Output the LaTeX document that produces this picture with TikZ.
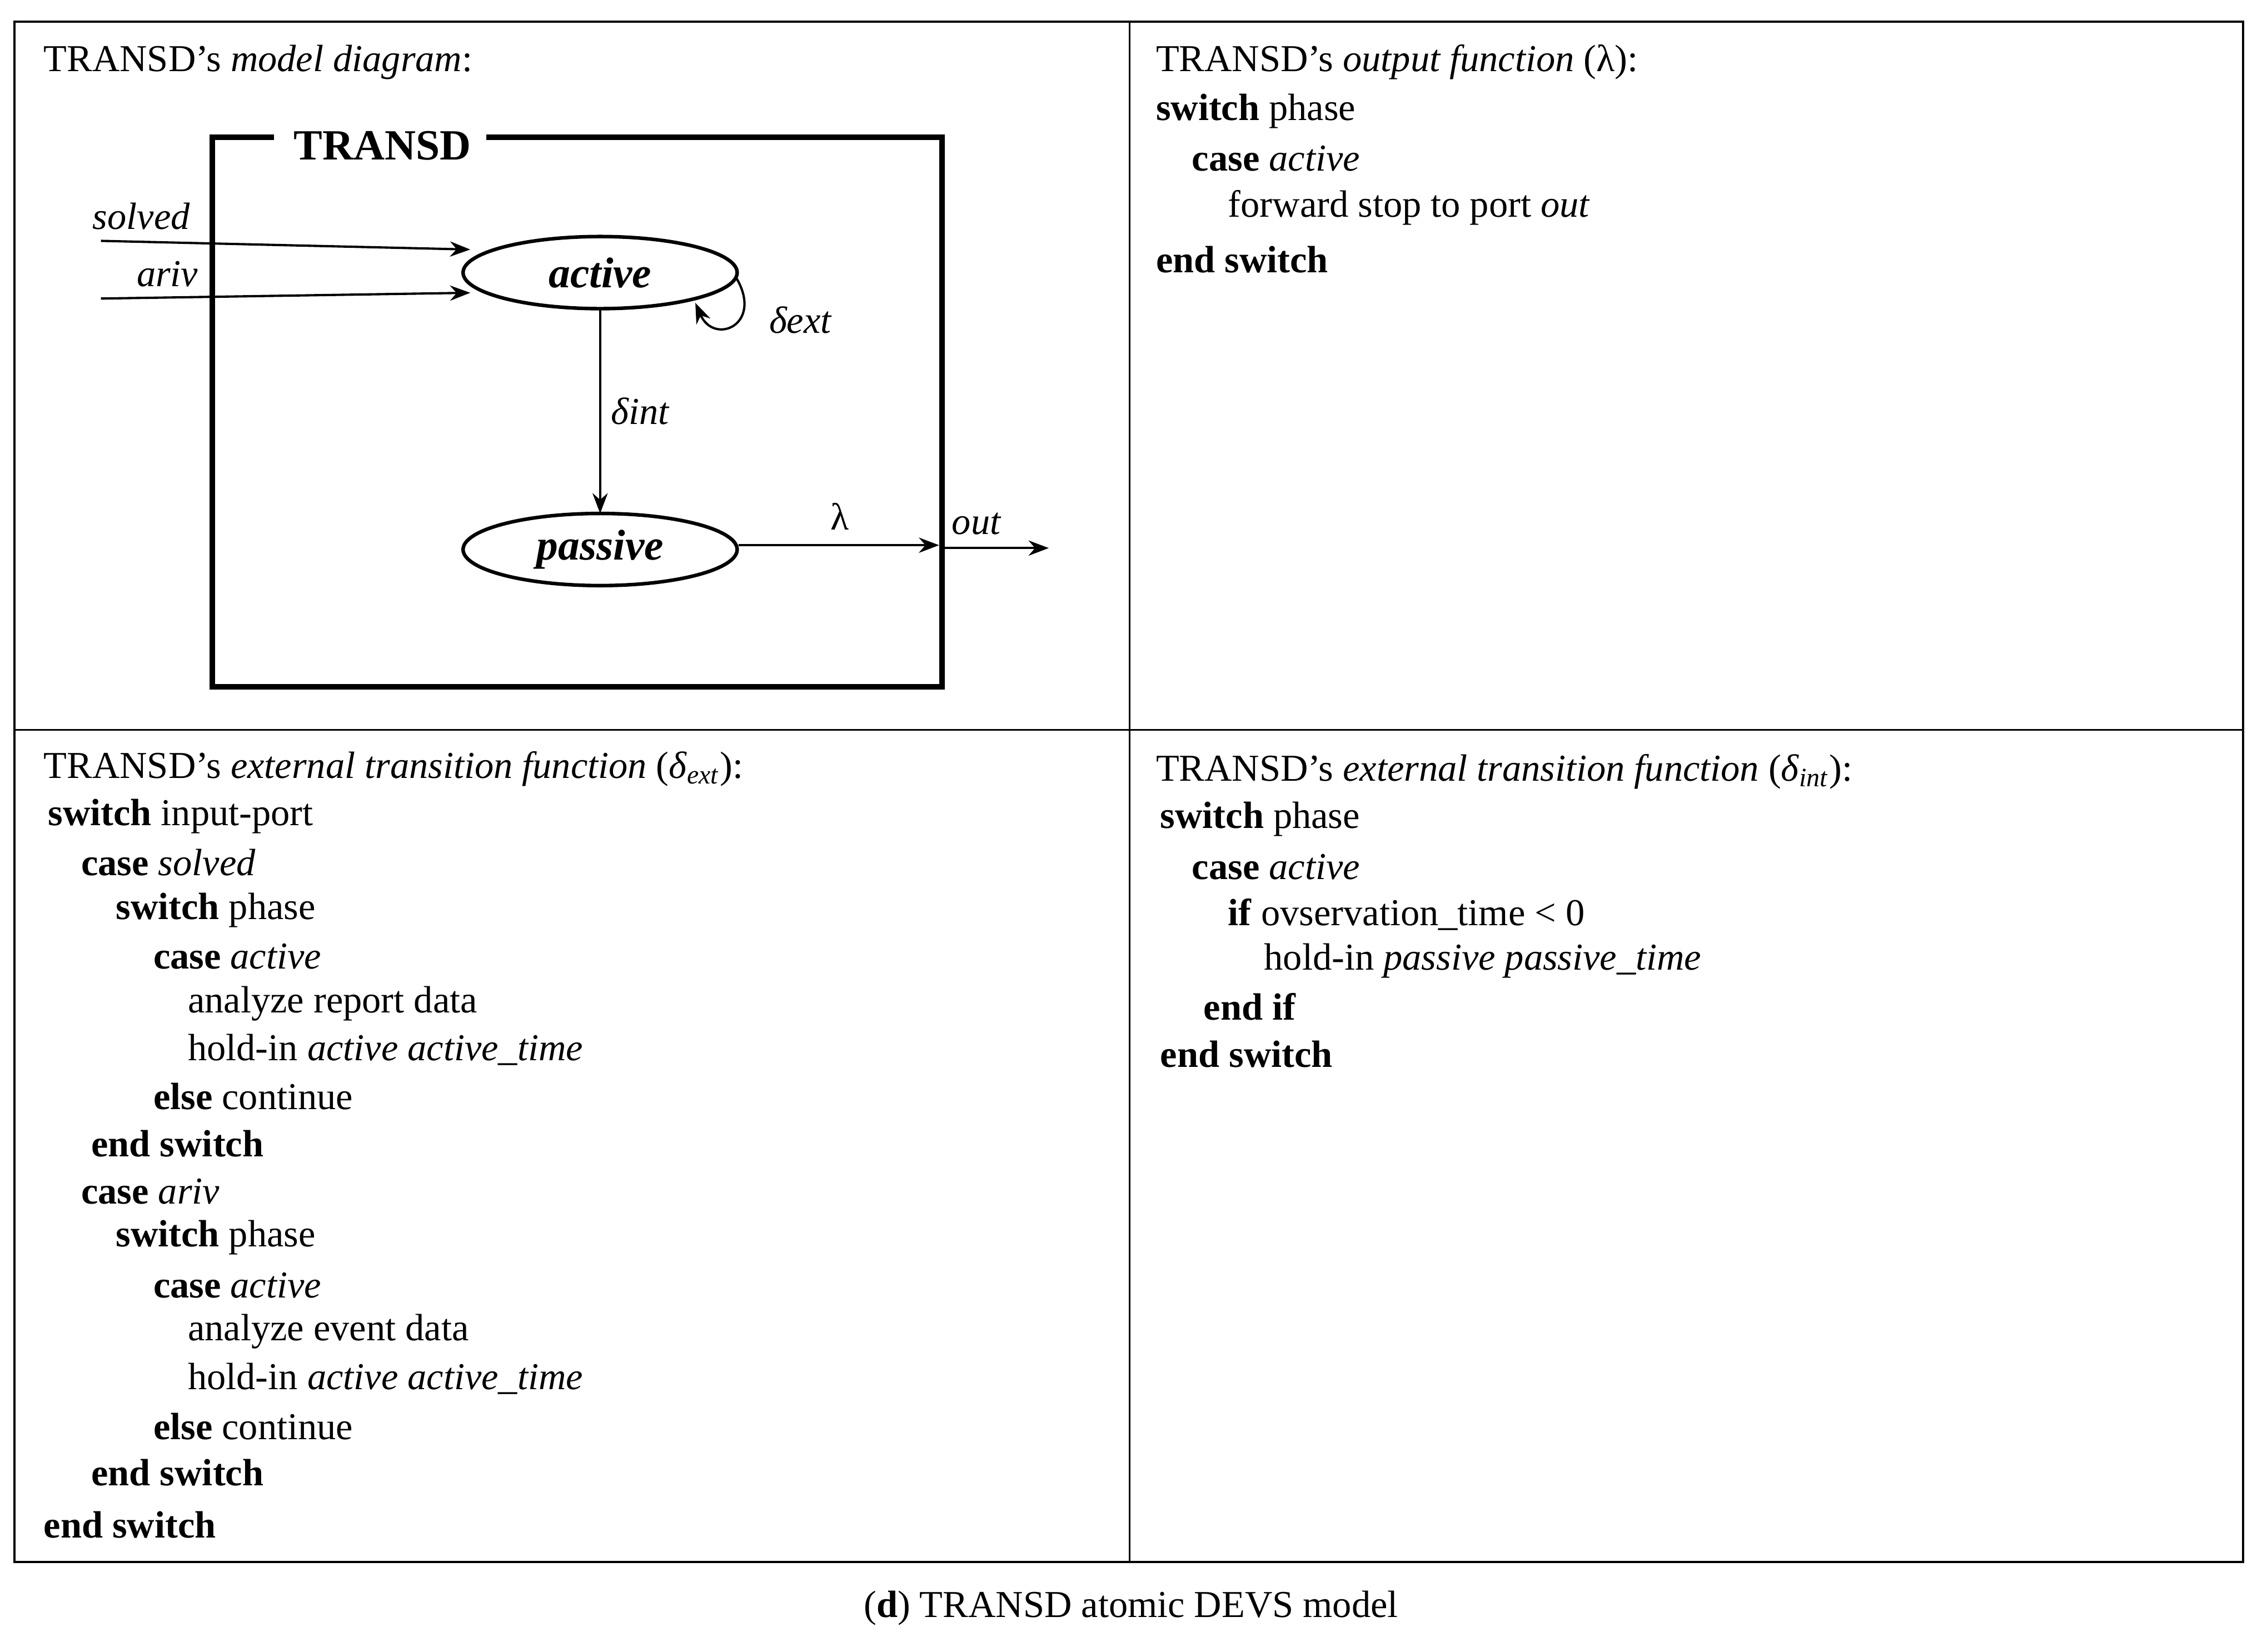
\documentclass[tikz,border=0pt]{standalone}
\usepackage{fontspec}
\setmainfont{Liberation Serif}
\usetikzlibrary{arrows.meta}
\begin{document}
\begin{tikzpicture}[x=0.02cm,y=-0.02cm,
  every node/.style={font=\fontsize{15}{18}\selectfont,inner sep=0pt},
  cl/.style={anchor=west},
  st/.style={draw,line width=1.4pt,ellipse,minimum width=190\pgflinewidth,inner sep=0pt},
  arr/.style={-{Stealth[length=8pt,width=6pt]},line width=0.9pt}]
\useasboundingbox (0,0) rectangle (1568,1145);
\draw[line width=0.8pt] (10,15) rectangle (1555,1083);
\draw[line width=0.8pt] (783,15) -- (783,1083);
\draw[line width=0.8pt] (10,506) -- (1555,506);
\node (cap) at (784,1115) {(\textbf{d}) TRANSD atomic DEVS model};
% top-left
\node[cl] (t1) at (30,43) {TRANSD’s \textit{model diagram}:};
\draw[line width=2.2pt] (190,95) -- (147,95) -- (147,476) -- (653,476) -- (653,95) -- (337,95);
\node[font=\fontsize{17}{20}\selectfont\bfseries] (tr) at (265,101) {TRANSD};
\draw[line width=1.4pt] (416,189) ellipse [x radius=95,y radius=25];
\node[font=\fontsize{17}{20}\selectfont\bfseries\itshape] (act) at (416,189) {active};
\draw[line width=1.4pt] (416,381) ellipse [x radius=95,y radius=25];
\node[font=\fontsize{17}{20}\selectfont\bfseries\itshape] (pas) at (416,381) {passive};
\coordinate (aW1) at (326,173); \coordinate (aW2) at (326,203);
\coordinate (s1) at (70,167); \coordinate (s2) at (70,207);
\draw[arr] (s1) -- (aW1);
\draw[arr] (s2) -- (aW2);
\node (solved) at (98,150) {\textit{solved}};
\node (ariv) at (116,190) {\textit{ariv}};
\coordinate (aB) at (416,214); \coordinate (pT) at (416,356);
\draw[arr] (aB) -- (pT);
\node (dint) at (444,285) {\textit{δint}};
\coordinate (lr1) at (510,192); \coordinate (lr2) at (482,210);
\draw[arr] (lr1) .. controls (530,225) and (495,240) .. (lr2);
\node (dext) at (555,222) {\textit{δext}};
\coordinate (pE) at (512,378); \coordinate (bx) at (651,378); \coordinate (o2) at (727,380);
\draw[arr] (pE) -- (bx);
\draw[arr] (653,380) -- (o2);
\node (lam) at (582,358) {λ};
\node (out) at (677,363) {\textit{out}};
% top-right
\node[cl] (r1) at (801,43) {TRANSD’s \textit{output function} (λ):};
\node[cl] (r2) at (801,77) {\textbf{switch} phase};
\node[cl] (r3) at (826,110) {\textbf{case} \textit{active}};
\node[cl] (r4) at (851,144) {forward stop to port \textit{out}};
\node[cl] (r5) at (801,180) {\textbf{end switch}};
% bottom-left
\node[cl] (b0) at (30,533) {TRANSD’s \textit{external transition function} (\textit{δ}\textsubscript{\textit{ext}}):};
\node[cl] (b1) at (33,566) {\textbf{switch} input-port};
\node[cl] (b2) at (56,598) {\textbf{case} \textit{solved}};
\node[cl] (b3) at (80,631) {\textbf{switch} phase};
\node[cl] (b4) at (106,663) {\textbf{case} \textit{active}};
\node[cl] (b5) at (130,696) {analyze report data};
\node[cl] (b6) at (130,728) {hold-in \textit{active active\_time}};
\node[cl] (b7) at (106,760) {\textbf{else} continue};
\node[cl] (b8) at (63,793) {\textbf{end switch}};
\node[cl] (b9) at (56,826) {\textbf{case} \textit{ariv}};
\node[cl] (b10) at (80,858) {\textbf{switch} phase};
\node[cl] (b11) at (106,891) {\textbf{case} \textit{active}};
\node[cl] (b12) at (130,923) {analyze event data};
\node[cl] (b13) at (130,956) {hold-in \textit{active active\_time}};
\node[cl] (b14) at (106,989) {\textbf{else} continue};
\node[cl] (b15) at (63,1021) {\textbf{end switch}};
\node[cl] (b16) at (30,1057) {\textbf{end switch}};
% bottom-right
\node[cl] (c0) at (801,535) {TRANSD’s \textit{external transition function} (\textit{δ}\textsubscript{\textit{int}}):};
\node[cl] (c1) at (804,568) {\textbf{switch} phase};
\node[cl] (c2) at (826,601) {\textbf{case} \textit{active}};
\node[cl] (c3) at (851,634) {\textbf{if} ovservation\_time < 0};
\node[cl] (c4) at (876,666) {hold-in \textit{passive passive\_time}};
\node[cl] (c5) at (834,698) {\textbf{end if}};
\node[cl] (c6) at (804,731) {\textbf{end switch}};
\end{tikzpicture}
\end{document}
